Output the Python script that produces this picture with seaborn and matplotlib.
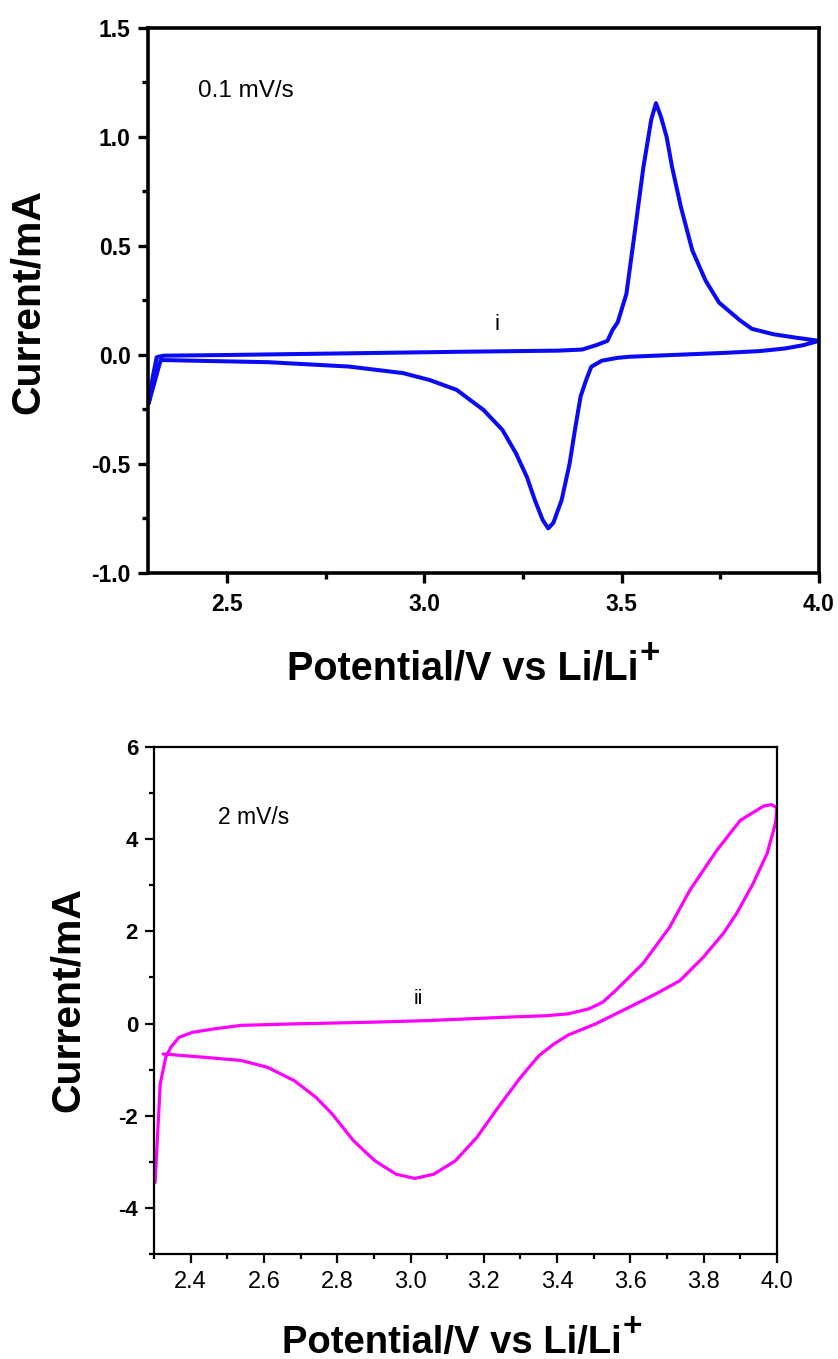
import numpy as np
import pandas as pd
import matplotlib
matplotlib.use("Agg")
import matplotlib.pyplot as plt
from matplotlib.ticker import MultipleLocator, FormatStrFormatter
import seaborn as sns

# Cyclic voltammogram at 0.1 mV/s: anodic sweep 2.3 -> 4.0 V, then cathodic sweep back
slow_potential = [2.302, 2.312, 2.322, 2.34, 2.5, 2.7, 2.9, 3.1, 3.34, 3.40, 3.437,
                  3.464, 3.477, 3.49, 3.512, 3.533, 3.555, 3.575, 3.587, 3.600, 3.614,
                  3.628, 3.65, 3.679, 3.713, 3.747, 3.799, 3.83, 3.885, 3.94, 4.0,
                  3.96, 3.914, 3.85, 3.764, 3.628, 3.52, 3.49, 3.45, 3.423, 3.41,
                  3.396, 3.382, 3.368, 3.348, 3.327, 3.314, 3.30, 3.28, 3.26, 3.232,
                  3.198, 3.15, 3.082, 3.014, 2.946, 2.809, 2.605, 2.468, 2.332, 2.302]
slow_current = [-0.22, -0.10, -0.01, -0.003, 0.000, 0.005, 0.010, 0.015, 0.020, 0.025, 0.046,
                0.065, 0.115, 0.15, 0.28, 0.56, 0.86, 1.08, 1.155, 1.09, 1.00,
                0.86, 0.68, 0.48, 0.34, 0.24, 0.16, 0.12, 0.095, 0.08, 0.065,
                0.045, 0.03, 0.018, 0.01, 0.0, -0.008, -0.013, -0.026, -0.054, -0.115,
                -0.19, -0.34, -0.50, -0.665, -0.77, -0.795, -0.757, -0.665, -0.56, -0.45,
                -0.344, -0.252, -0.16, -0.115, -0.083, -0.053, -0.033, -0.028, -0.023, -0.22]

# Cyclic voltammogram at 2 mV/s
fast_potential = [2.303, 2.317, 2.332, 2.346, 2.368, 2.405, 2.464, 2.537, 2.683, 2.90,
                  3.049, 3.268, 3.37, 3.43, 3.487, 3.524, 3.56, 3.634, 3.707, 3.762,
                  3.836, 3.90, 3.964, 3.985, 4.0,
                  3.996, 3.973, 3.935, 3.89, 3.854, 3.799, 3.735, 3.671, 3.597, 3.505,
                  3.43, 3.39, 3.35, 3.30, 3.239, 3.181, 3.122, 3.063, 3.012, 2.961,
                  2.903, 2.844, 2.786, 2.742, 2.683, 2.61, 2.537, 2.434, 2.325]
fast_current = [-3.45, -1.31, -0.73, -0.515, -0.30, -0.19, -0.116, -0.04, -0.007, 0.03,
                0.065, 0.14, 0.17, 0.21, 0.32, 0.46, 0.72, 1.30, 2.09, 2.89,
                3.76, 4.41, 4.72, 4.75, 4.68,
                4.35, 3.69, 3.04, 2.39, 1.96, 1.44, 0.93, 0.65, 0.355, -0.007,
                -0.25, -0.45, -0.70, -1.17, -1.82, -2.47, -2.98, -3.27, -3.36, -3.27,
                -2.98, -2.54, -1.96, -1.60, -1.24, -0.95, -0.80, -0.73, -0.66]

slow_label = "0.1 mV/s"
fast_label = "2 mV/s"
x_label = "Potential/V vs Li/Li"
x_label_sup = "+"
y_label = "Current/mA"

sns.set_theme(style="ticks")
plt.rcParams["font.family"] = ["Liberation Sans", "DejaVu Sans"]
plt.rcParams["axes.unicode_minus"] = False
for key in ("text.color", "axes.labelcolor", "xtick.color", "ytick.color", "axes.edgecolor"):
    plt.rcParams[key] = "black"

W, H = 838, 1359
fig = plt.figure(figsize=(W / 100, H / 100), dpi=100)
fig.patch.set_facecolor("white")


def box(left, top, right, bottom):
    return [left / W, 1 - bottom / H, (right - left) / W, (bottom - top) / H]


ax1 = fig.add_axes(box(148, 28, 819, 573))
ax2 = fig.add_axes(box(154, 747, 777, 1254))

slow_df = pd.DataFrame({"potential": slow_potential, "current": slow_current})
fast_df = pd.DataFrame({"potential": fast_potential, "current": fast_current})

sns.lineplot(data=slow_df, x="potential", y="current", sort=False, estimator=None,
             color="#0a0af5", linewidth=2.9, ax=ax1)
sns.lineplot(data=fast_df, x="potential", y="current", sort=False, estimator=None,
             color="#ff00ff", linewidth=2.3, ax=ax2)

# Upper panel axes
ax1.set_xlim(2.3, 4.0)
ax1.set_ylim(-1.0, 1.5)
ax1.xaxis.set_major_locator(MultipleLocator(0.5))
ax1.xaxis.set_minor_locator(MultipleLocator(0.25))
ax1.yaxis.set_major_locator(MultipleLocator(0.5))
ax1.yaxis.set_minor_locator(MultipleLocator(0.25))
ax1.xaxis.set_major_formatter(FormatStrFormatter("%.1f"))
ax1.yaxis.set_major_formatter(FormatStrFormatter("%.1f"))
for s in ax1.spines.values():
    s.set_linewidth(2.6)
    s.set_color("black")
ax1.tick_params(which="major", direction="out", length=7.5, width=2.4, color="black")
ax1.tick_params(which="minor", direction="out", length=4.5, width=2.4, color="black")
ax1.tick_params(axis="x", which="major", pad=7, labelsize=16.5)
ax1.tick_params(axis="y", which="major", pad=5, labelsize=16.5)
for lab in ax1.get_xticklabels() + ax1.get_yticklabels():
    lab.set_fontweight("bold")
ax1.set_xlabel("")
ax1.set_ylabel("")
ax1.text(2.4276, 1.212, slow_label, fontsize=17.5, va="center", ha="left")
ax1.text(3.183, 0.138, "i", fontsize=16, va="center", ha="center")

# Lower panel axes
ax2.set_xlim(2.3, 4.0)
ax2.set_ylim(-5, 6)
ax2.xaxis.set_major_locator(MultipleLocator(0.2))
ax2.xaxis.set_minor_locator(MultipleLocator(0.1))
ax2.yaxis.set_major_locator(MultipleLocator(2))
ax2.yaxis.set_minor_locator(MultipleLocator(1))
ax2.xaxis.set_major_formatter(FormatStrFormatter("%.1f"))
ax2.yaxis.set_major_formatter(FormatStrFormatter("%d"))
for s in ax2.spines.values():
    s.set_linewidth(1.6)
    s.set_color("black")
ax2.tick_params(which="major", direction="out", length=6.5, width=1.6, color="black")
ax2.tick_params(which="minor", direction="out", length=3.5, width=1.6, color="black")
ax2.tick_params(axis="x", which="major", pad=6, labelsize=17)
ax2.tick_params(axis="y", which="major", pad=5, labelsize=16)
for lab in ax2.get_yticklabels():
    lab.set_fontweight("bold")
ax2.set_xlabel("")
ax2.set_ylabel("")
ax2.text(2.475, 4.48, fast_label, fontsize=16.5, va="center", ha="left")
ax2.text(3.02, 0.54, "ii", fontsize=15, va="center", ha="center")

for ax in (ax1, ax2):
    ax.set_facecolor("white")
    ax.tick_params(top=False, right=False)

# Axis titles, with the "+" of Li+ raised as a superscript
renderer = fig.canvas.get_renderer()
for left_px, base_px, size in ((287, 680, 28.5), (282, 1353, 27.5)):
    t = fig.text(left_px / W, 1 - base_px / H, x_label, fontsize=size,
                 fontweight="bold", ha="left", va="baseline")
    ext = t.get_window_extent(renderer=renderer)
    fig.text(ext.x1 / W + 1 / W, 1 - (base_px - 17) / H, x_label_sup,
             fontsize=size - 3.5, fontweight="bold", ha="left", va="baseline")

fig.text(28 / W, 1 - 302 / H, y_label, fontsize=29.5, fontweight="bold",
         rotation=90, ha="center", va="center")
fig.text(68 / W, 1 - 1000 / H, y_label, fontsize=29.5, fontweight="bold",
         rotation=90, ha="center", va="center")

fig.savefig("out.png", dpi=100, facecolor="white")
